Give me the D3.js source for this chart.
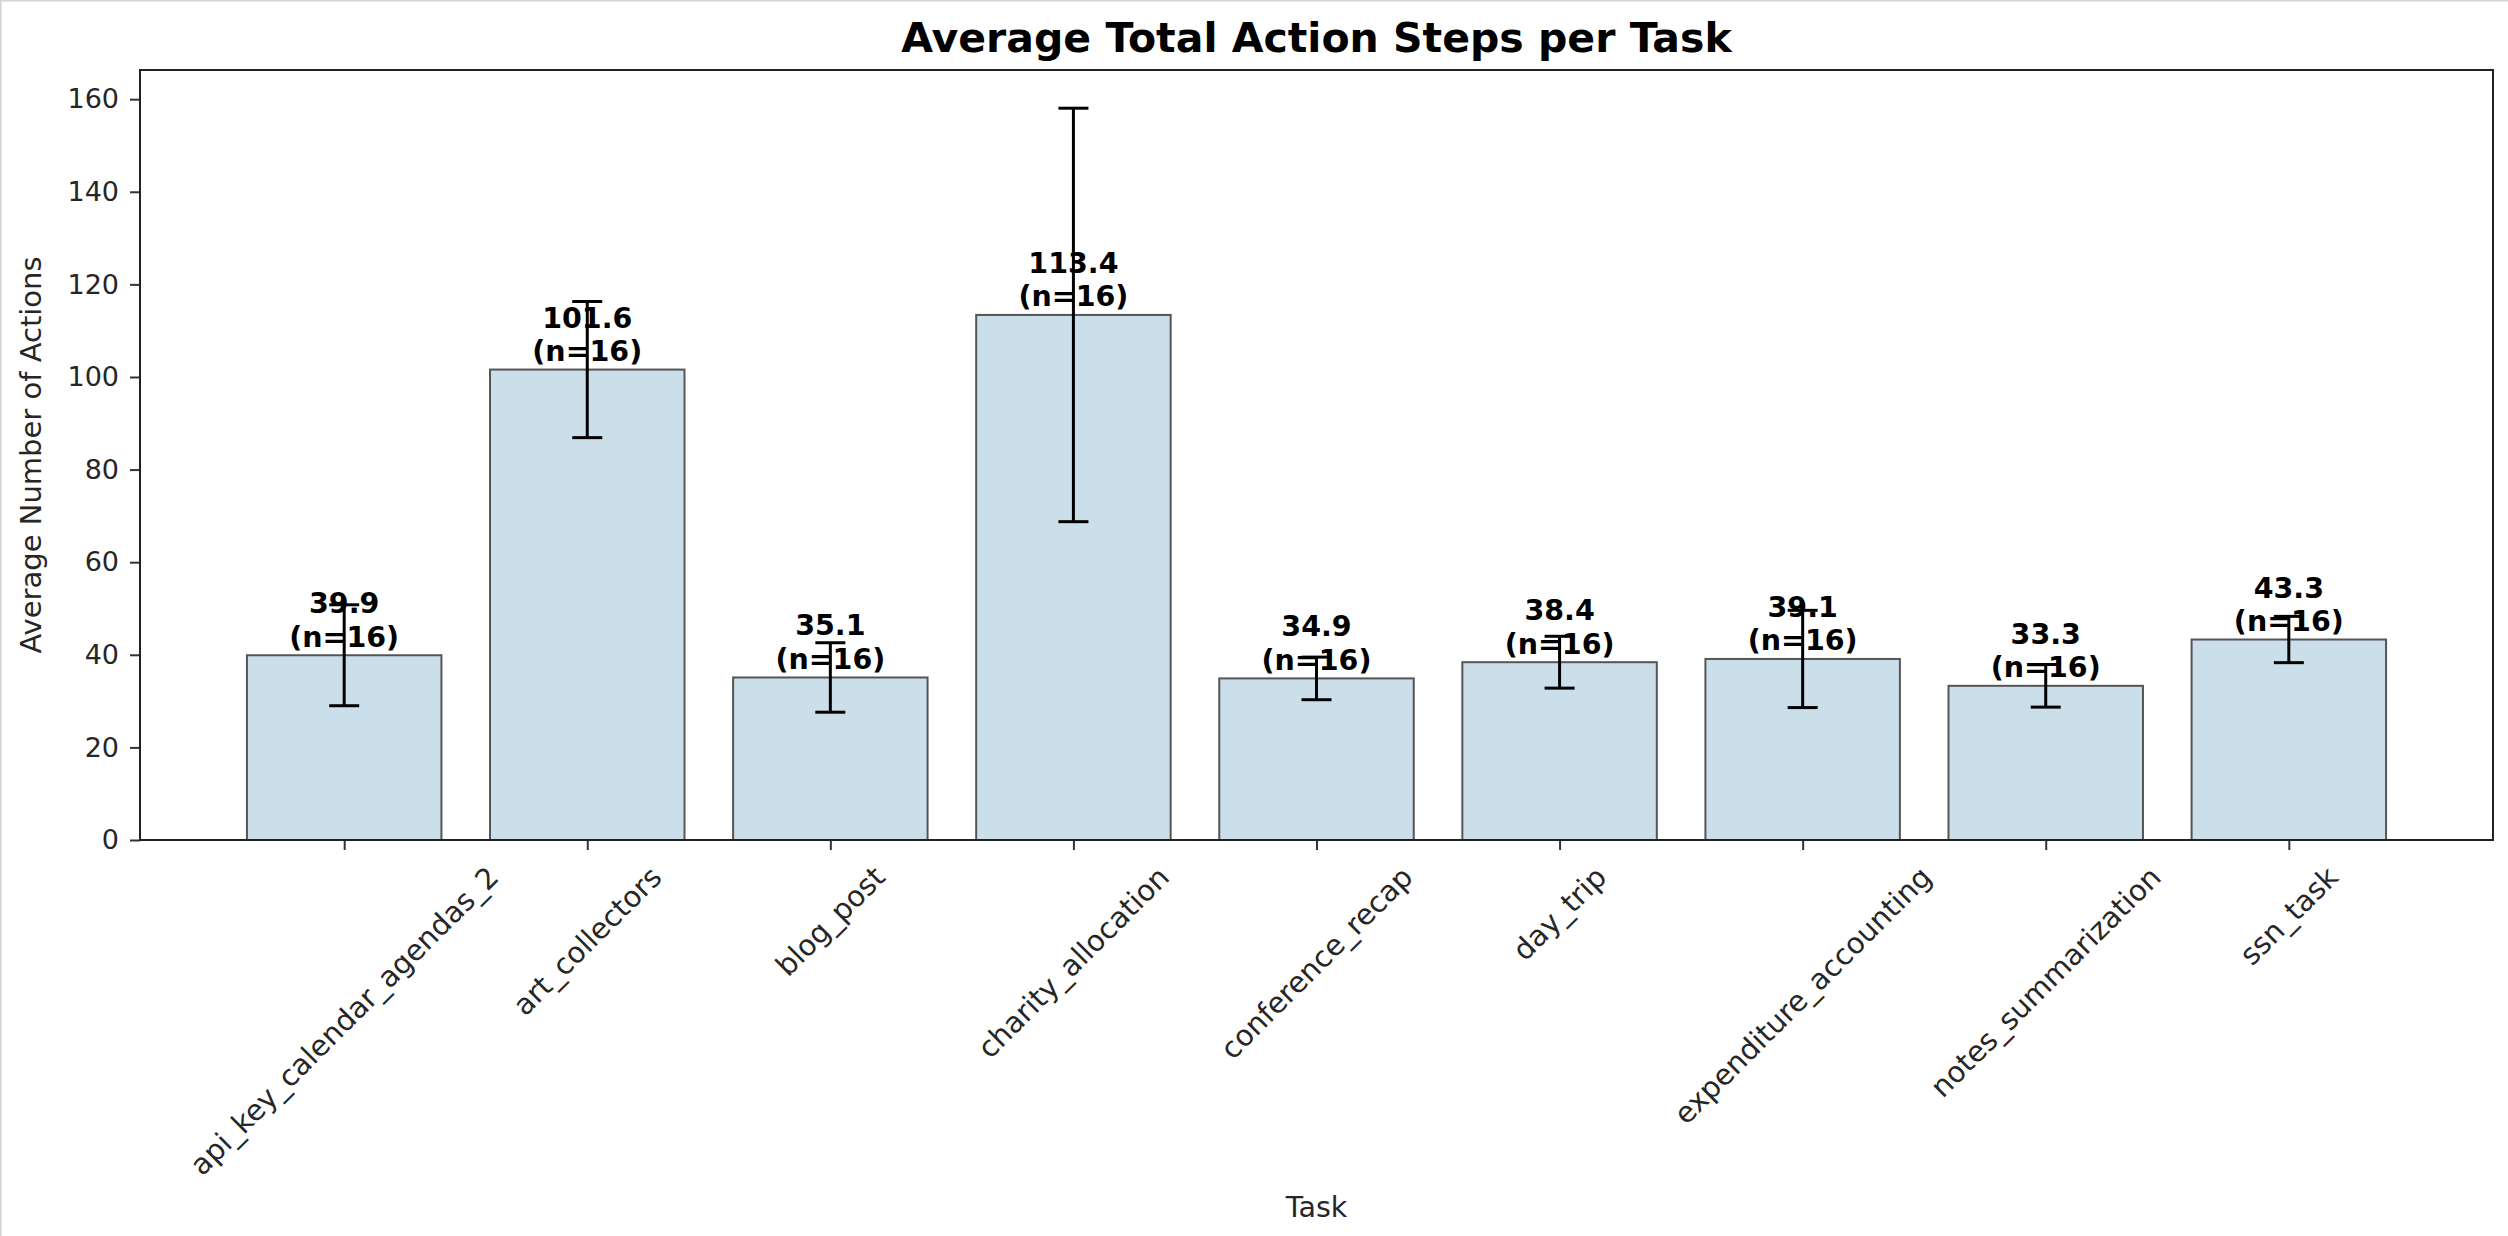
<!DOCTYPE html>
<html>
<head>
<meta charset="utf-8">
<script src="https://cdn.jsdelivr.net/npm/d3@7"></script>
<style>
  html, body { margin: 0; padding: 0; background: #fff; }
  svg { display: block; }
  text { font-family: "DejaVu Sans", sans-serif; }
</style>
</head>
<body>
<script>
// ---- data ----
const categories = ["api_key_calendar_agendas_2", "art_collectors", "blog_post", "charity_allocation",
  "conference_recap", "day_trip", "expenditure_accounting", "notes_summarization", "ssn_task"];
const means = [39.9, 101.6, 35.1, 113.4, 34.9, 38.4, 39.1, 33.3, 43.3];
const errors = [10.9, 14.7, 7.5, 44.65, 4.6, 5.6, 10.5, 4.6, 5.0];
const counts = [16, 16, 16, 16, 16, 16, 16, 16, 16];
const yTicks = [0, 20, 40, 60, 80, 100, 120, 140, 160];
const titleText = "Average Total Action Steps per Task";
const xLabel = "Task";
const yLabel = "Average Number of Actions";

// ---- layout ----
const W = 2508, H = 1236;
const L = 140, R = 2493, T = 70, B = 840;

const svg = d3.select("body").append("svg").attr("width", W).attr("height", H);
svg.append("rect").attr("width", W).attr("height", H).attr("fill", "#fff");
// faint page border (left and top)
svg.append("line").attr("x1", 0.5).attr("x2", 0.5).attr("y1", 0).attr("y2", H).attr("stroke", "#d4d4d4").attr("stroke-width", 2);
svg.append("line").attr("x1", 0).attr("x2", W).attr("y1", 0.5).attr("y2", 0.5).attr("stroke", "#d4d4d4").attr("stroke-width", 2);

const n = categories.length;
const x = d3.scaleLinear().domain([-0.84, n - 1 + 0.84]).range([L, R]);
const y = d3.scaleLinear().domain([0, 166.3]).range([B, T]);
const barW = x(0.8) - x(0);

// bars
svg.append("g").selectAll("rect").data(means).join("rect")
  .attr("x", (d, i) => x(i) - barW / 2)
  .attr("y", d => y(d))
  .attr("width", barW)
  .attr("height", d => y(0) - y(d))
  .attr("fill", "#cadfea")
  .attr("stroke", "#555")
  .attr("stroke-width", 2);

// error bars
const eg = svg.append("g").attr("stroke", "#000").attr("stroke-width", 3);
means.forEach((m, i) => {
  const cx = x(i);
  const top = y(m + errors[i]), bot = y(m - errors[i]);
  eg.append("line").attr("x1", cx).attr("x2", cx).attr("y1", top).attr("y2", bot);
  eg.append("line").attr("x1", cx - 15).attr("x2", cx + 15).attr("y1", top).attr("y2", top);
  eg.append("line").attr("x1", cx - 15).attr("x2", cx + 15).attr("y1", bot).attr("y2", bot);
});

// value labels
const vg = svg.append("g");
means.forEach((m, i) => {
  const t = vg.append("text")
    .attr("x", x(i)).attr("text-anchor", "middle")
    .attr("font-size", 28.5).attr("font-weight", "bold").attr("fill", "#000");
  t.append("tspan").attr("x", x(i)).attr("y", y(m) - 8.5 - 33.5).text(m.toFixed(1));
  t.append("tspan").attr("x", x(i)).attr("y", y(m) - 8.5).text("(n=" + counts[i] + ")");
});

// y axis
const yAxis = d3.axisLeft(y).tickValues(yTicks).tickSize(10).tickPadding(11).tickFormat(d3.format("d"));
const yg = svg.append("g").attr("transform", `translate(${L},0)`).call(yAxis);
yg.select(".domain").remove();
yg.selectAll(".tick line").attr("stroke", "#333").attr("stroke-width", 2);
yg.selectAll(".tick text").attr("font-size", 27).attr("fill", "#262626").attr("font-family", "DejaVu Sans");

// x axis ticks
const xAxis = d3.axisBottom(x).tickValues(d3.range(n)).tickSize(10).tickFormat("");
const xg = svg.append("g").attr("transform", `translate(0,${B})`).call(xAxis);
xg.select(".domain").remove();
xg.selectAll(".tick line").attr("stroke", "#333").attr("stroke-width", 2);

// x tick labels rotated 45 deg, bbox centered on tick (matplotlib style)
const fsX = 29;
const lg = svg.append("g");
categories.forEach((c, i) => {
  const t = lg.append("text").attr("font-size", fsX).attr("fill", "#262626")
    .attr("text-anchor", "middle").text(c);
  const w = t.node().getComputedTextLength();
  const h = fsX * 1.164;
  const cx = x(i);
  const cy = B + 10 + 10 + (w + h) / (2 * Math.SQRT2);
  t.attr("x", cx).attr("y", cy + 0.346 * fsX)
    .attr("transform", `rotate(-45, ${cx}, ${cy})`);
});

// frame (spines)
svg.append("rect").attr("x", L).attr("y", T).attr("width", R - L).attr("height", B - T)
  .attr("fill", "none").attr("stroke", "#222").attr("stroke-width", 2);

// title
svg.append("text").attr("x", (L + R) / 2).attr("y", 52).attr("text-anchor", "middle")
  .attr("font-size", 41).attr("font-weight", "bold").attr("fill", "#000").text(titleText);

// axis labels
svg.append("text").attr("x", (L + R) / 2).attr("y", 1217).attr("text-anchor", "middle")
  .attr("font-size", 28.5).attr("fill", "#262626").text(xLabel);
svg.append("text").attr("transform", `translate(41,${(T + B) / 2}) rotate(-90)`)
  .attr("text-anchor", "middle").attr("font-size", 29).attr("fill", "#262626").text(yLabel);
</script>
</body>
</html>
